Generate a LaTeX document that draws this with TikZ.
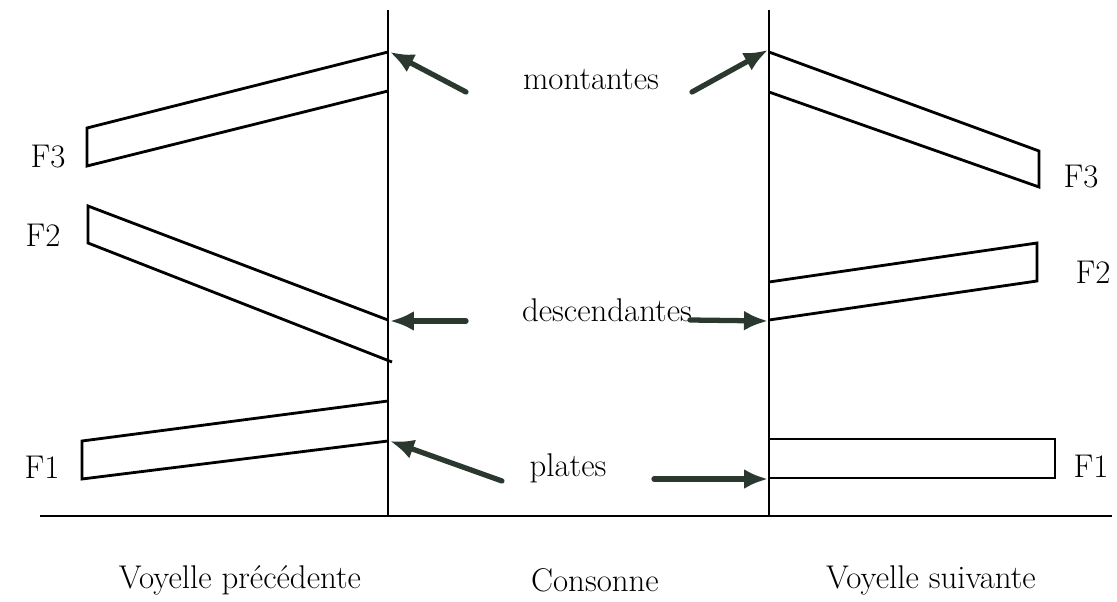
\documentclass[tikz,border=0pt]{standalone}
\usepackage{tikz}
\usetikzlibrary{arrows.meta}
\definecolor{arrowcol}{HTML}{2A382E}
\tikzset{
  band/.style={line width=1.6pt, line join=miter},
  axe/.style={line width=1.2pt},
  fleche/.style={line width=3pt, color=arrowcol, line cap=round,
    -{Latex[length=0.48cm,width=0.4cm]}},
  etiq/.style={font=\fontsize{18.7}{21}\selectfont, inner sep=0pt}
}

\begin{document}
\begin{tikzpicture}[x=0.02cm,y=-0.02cm]
			%%%%% START %%%%%
			\useasboundingbox (0,0) rectangle (1117,602);
			
			% axes
			\draw[axe] (40,516) -- (1112,516);
			\draw[axe] (388,10) -- (388,516);
			\draw[axe] (769,10) -- (769,516);
			
			% voyelle precedente
			\draw[band] (388,52) -- (87,128) -- (87,166) -- (388,91);
			\draw[band] (388,320) -- (88,206) -- (88,243) -- (392,362);
			\draw[band] (388,401) -- (82,441) -- (82,479) -- (388,441);
			
			% voyelle suivante
			\draw[band] (769,52) -- (1039,151) -- (1039,187) -- (769,92);
			\draw[band] (769,282) -- (1037,243) -- (1037,281) -- (769,320);
			\draw[band] (769,439) -- (1055,439) -- (1055,478) -- (769,478);
			
			% formants
			\node[etiq] (f3g) at (48,157) {F3};
			\node[etiq] (f2g) at (43,235) {F2};
			\node[etiq] (f1g) at (42,467) {F1};
			\node[etiq] (f3d) at (1081,177) {F3};
			\node[etiq] (f2d) at (1093,272) {F2};
			\node[etiq] (f1d) at (1091,466) {F1};
			
			% types de transitions
			\node[etiq] (mont) at (591,80) {montantes};
			\node[etiq] (desc) at (607,310) {descendantes};
			\node[etiq] (plat) at (568,468) {plates};
			
			\coordinate (mg) at (466,92);   \coordinate (mgx) at (390,52);
			\coordinate (md) at (692,92);   \coordinate (mdx) at (768,50);
			\coordinate (dg) at (466,321);  \coordinate (dgx) at (390,321);
			\coordinate (dd) at (690,320);  \coordinate (ddx) at (768,321);
			\coordinate (pg) at (502,481);  \coordinate (pgx) at (390,441);
			\coordinate (pd) at (654,479);  \coordinate (pdx) at (768,479);
			
			\draw[fleche] (mg) -- (mgx);
			\draw[fleche] (md) -- (mdx);
			\draw[fleche] (dg) -- (dgx);
			\draw[fleche] (dd) -- (ddx);
			\draw[fleche] (pg) -- (pgx);
			\draw[fleche] (pd) -- (pdx);
			
			% parties
			\node[etiq] (vp) at (240,580) {Voyelle précédente};
			\node[etiq] (cons) at (595,580) {Consonne};
			\node[etiq] (vs) at (931,580) {Voyelle suivante};
			%%%%% END %%%%%
\end{tikzpicture}
\end{document}
